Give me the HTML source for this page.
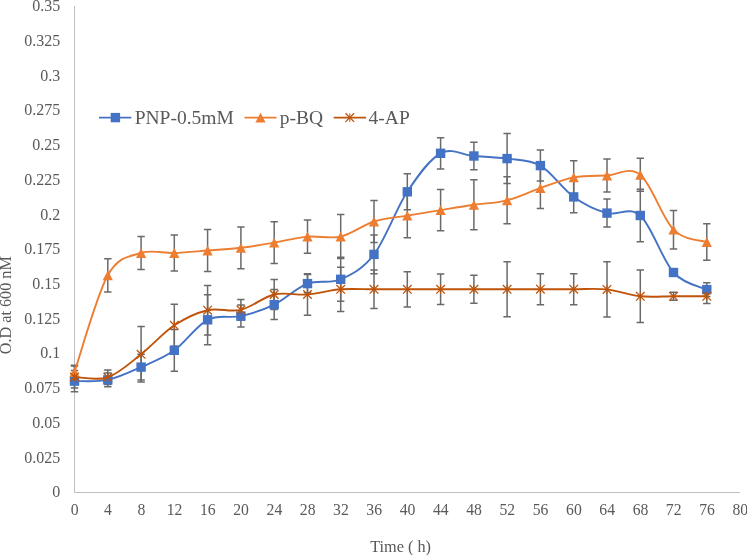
<!DOCTYPE html>
<html lang="en">
<head>
<meta charset="utf-8">
<title>Growth curve</title>
<style>
html,body{margin:0;padding:0;background:#fff;}
body{width:747px;height:555px;overflow:hidden;}
svg{display:block;will-change:transform;}
</style>
</head>
<body>
<svg width="747" height="555" viewBox="0 0 747 555">
<rect width="747" height="555" fill="#ffffff"/>
<path d="M74.5 6.1 V492.5 H739.9" fill="none" stroke="#bfbfbf" stroke-width="1"/>
<g font-family="'Liberation Serif', 'Times New Roman', serif" font-size="16" fill="#595959">
<g text-anchor="end">
<text x="60.2" y="497.2">0</text>
<text x="60.2" y="462.5">0.025</text>
<text x="60.2" y="427.8">0.05</text>
<text x="60.2" y="393.1">0.075</text>
<text x="60.2" y="358.4">0.1</text>
<text x="60.2" y="323.6">0.125</text>
<text x="60.2" y="288.9">0.15</text>
<text x="60.2" y="254.2">0.175</text>
<text x="60.2" y="219.5">0.2</text>
<text x="60.2" y="184.8">0.225</text>
<text x="60.2" y="150.0">0.25</text>
<text x="60.2" y="115.3">0.275</text>
<text x="60.2" y="80.6">0.3</text>
<text x="60.2" y="45.9">0.325</text>
<text x="60.2" y="11.1">0.35</text>
</g>
<g text-anchor="middle" font-size="15.7">
<text x="74.7" y="514.9">0</text>
<text x="108.0" y="514.9">4</text>
<text x="141.3" y="514.9">8</text>
<text x="174.5" y="514.9">12</text>
<text x="207.8" y="514.9">16</text>
<text x="241.1" y="514.9">20</text>
<text x="274.4" y="514.9">24</text>
<text x="307.7" y="514.9">28</text>
<text x="340.9" y="514.9">32</text>
<text x="374.2" y="514.9">36</text>
<text x="407.5" y="514.9">40</text>
<text x="440.8" y="514.9">44</text>
<text x="474.1" y="514.9">48</text>
<text x="507.3" y="514.9">52</text>
<text x="540.6" y="514.9">56</text>
<text x="573.9" y="514.9">60</text>
<text x="607.2" y="514.9">64</text>
<text x="640.5" y="514.9">68</text>
<text x="673.7" y="514.9">72</text>
<text x="707.0" y="514.9">76</text>
<text x="740.3" y="514.9">80</text>
<text x="400.6" y="551.7" font-size="16.3">Time ( h)</text>
<text transform="translate(11.3 305.2) rotate(-90)" font-size="16.2">O.D at 600 nM</text>
</g>
</g>
<path d="M74.5 370.5 V391.7 M70.8 370.5 h7.4 M70.8 391.7 h7.4 M107.8 373.1 V386.7 M104.1 373.1 h7.4 M104.1 386.7 h7.4 M141.1 354.2 V380.0 M137.4 354.2 h7.4 M137.4 380.0 h7.4 M174.3 329.4 V371.2 M170.6 329.4 h7.4 M170.6 371.2 h7.4 M207.6 294.8 V344.8 M203.9 294.8 h7.4 M203.9 344.8 h7.4 M240.9 305.1 V327.1 M237.2 305.1 h7.4 M237.2 327.1 h7.4 M274.2 289.6 V319.6 M270.5 289.6 h7.4 M270.5 319.6 h7.4 M307.5 274.4 V292.8 M303.8 274.4 h7.4 M303.8 292.8 h7.4 M340.7 257.3 V301.3 M337.0 257.3 h7.4 M337.0 301.3 h7.4 M374.0 235.1 V273.7 M370.3 235.1 h7.4 M370.3 273.7 h7.4 M407.3 173.8 V209.8 M403.6 173.8 h7.4 M403.6 209.8 h7.4 M440.6 137.7 V168.9 M436.9 137.7 h7.4 M436.9 168.9 h7.4 M473.9 142.2 V169.8 M470.2 142.2 h7.4 M470.2 169.8 h7.4 M507.1 133.6 V183.6 M503.4 133.6 h7.4 M503.4 183.6 h7.4 M540.4 150.1 V181.1 M536.7 150.1 h7.4 M536.7 181.1 h7.4 M573.7 181.1 V212.7 M570.0 181.1 h7.4 M570.0 212.7 h7.4 M607.0 199.1 V227.1 M603.3 199.1 h7.4 M603.3 227.1 h7.4 M640.3 189.3 V241.7 M636.6 189.3 h7.4 M636.6 241.7 h7.4 M673.5 269.5 V275.5 M669.8 269.5 h7.4 M669.8 275.5 h7.4 M706.8 282.8 V296.4 M703.1 282.8 h7.4 M703.1 296.4 h7.4 " fill="none" stroke="#6a6a6a" stroke-width="1.5"/>
<path d="M74.5 365.2 V378.8 M70.8 365.2 h7.4 M70.8 378.8 h7.4 M107.8 258.7 V291.9 M104.1 258.7 h7.4 M104.1 291.9 h7.4 M141.1 236.5 V269.5 M137.4 236.5 h7.4 M137.4 269.5 h7.4 M174.3 235.1 V270.9 M170.6 235.1 h7.4 M170.6 270.9 h7.4 M207.6 229.6 V271.4 M203.9 229.6 h7.4 M203.9 271.4 h7.4 M240.9 226.9 V268.7 M237.2 226.9 h7.4 M237.2 268.7 h7.4 M274.2 221.8 V263.6 M270.5 221.8 h7.4 M270.5 263.6 h7.4 M307.5 219.9 V253.3 M303.8 219.9 h7.4 M303.8 253.3 h7.4 M340.7 214.6 V258.6 M337.0 214.6 h7.4 M337.0 258.6 h7.4 M374.0 200.6 V242.4 M370.3 200.6 h7.4 M370.3 242.4 h7.4 M407.3 193.4 V237.8 M403.6 193.4 h7.4 M403.6 237.8 h7.4 M440.6 189.5 V230.7 M436.9 189.5 h7.4 M436.9 230.7 h7.4 M473.9 179.8 V229.8 M470.2 179.8 h7.4 M470.2 229.8 h7.4 M507.1 176.8 V223.8 M503.4 176.8 h7.4 M503.4 223.8 h7.4 M540.4 167.8 V208.4 M536.7 167.8 h7.4 M536.7 208.4 h7.4 M573.7 160.8 V194.0 M570.0 160.8 h7.4 M570.0 194.0 h7.4 M607.0 159.0 V192.0 M603.3 159.0 h7.4 M603.3 192.0 h7.4 M640.3 158.3 V191.3 M636.6 158.3 h7.4 M636.6 191.3 h7.4 M673.5 210.4 V249.0 M669.8 210.4 h7.4 M669.8 249.0 h7.4 M706.8 223.8 V260.2 M703.1 223.8 h7.4 M703.1 260.2 h7.4 " fill="none" stroke="#6a6a6a" stroke-width="1.5"/>
<path d="M74.5 366.1 V387.9 M70.8 366.1 h7.4 M70.8 387.9 h7.4 M107.8 370.0 V384.6 M104.1 370.0 h7.4 M104.1 384.6 h7.4 M141.1 326.6 V382.0 M137.4 326.6 h7.4 M137.4 382.0 h7.4 M174.3 304.3 V346.3 M170.6 304.3 h7.4 M170.6 346.3 h7.4 M207.6 285.4 V335.0 M203.9 285.4 h7.4 M203.9 335.0 h7.4 M240.9 299.4 V320.2 M237.2 299.4 h7.4 M237.2 320.2 h7.4 M274.2 279.5 V309.5 M270.5 279.5 h7.4 M270.5 309.5 h7.4 M307.5 273.7 V315.3 M303.8 273.7 h7.4 M303.8 315.3 h7.4 M340.7 267.2 V311.4 M337.0 267.2 h7.4 M337.0 311.4 h7.4 M374.0 270.0 V308.6 M370.3 270.0 h7.4 M370.3 308.6 h7.4 M407.3 271.7 V306.9 M403.6 271.7 h7.4 M403.6 306.9 h7.4 M440.6 274.1 V304.5 M436.9 274.1 h7.4 M436.9 304.5 h7.4 M473.9 275.3 V303.3 M470.2 275.3 h7.4 M470.2 303.3 h7.4 M507.1 261.8 V316.8 M503.4 261.8 h7.4 M503.4 316.8 h7.4 M540.4 273.7 V304.7 M536.7 273.7 h7.4 M536.7 304.7 h7.4 M573.7 273.7 V304.7 M570.0 273.7 h7.4 M570.0 304.7 h7.4 M607.0 261.8 V317.0 M603.3 261.8 h7.4 M603.3 317.0 h7.4 M640.3 270.1 V322.5 M636.6 270.1 h7.4 M636.6 322.5 h7.4 M673.5 292.3 V300.3 M669.8 292.3 h7.4 M669.8 300.3 h7.4 M706.8 289.0 V303.6 M703.1 289.0 h7.4 M703.1 303.6 h7.4 " fill="none" stroke="#6a6a6a" stroke-width="1.5"/>
<path d="M74.50 381.10 C80.05 380.90 96.69 382.23 107.78 379.90 C118.87 377.57 129.97 372.03 141.06 367.10 C152.15 362.17 163.25 358.18 174.34 350.30 C185.43 342.42 196.53 325.50 207.62 319.80 C218.71 314.10 229.81 318.63 240.90 316.10 C251.99 313.57 263.09 310.02 274.18 304.60 C285.27 299.18 296.37 287.82 307.46 283.60 C318.55 279.38 329.65 284.17 340.74 279.30 C351.83 274.43 362.93 268.98 374.02 254.40 C385.11 239.82 396.21 208.65 407.30 191.80 C418.39 174.95 429.49 159.27 440.58 153.30 C451.67 147.33 462.77 155.12 473.86 156.00 C484.95 156.88 496.05 157.00 507.14 158.60 C518.23 160.20 529.33 159.22 540.42 165.60 C551.51 171.98 562.61 188.98 573.70 196.90 C584.79 204.82 595.89 210.00 606.98 213.10 C618.07 216.20 629.17 205.60 640.26 215.50 C651.35 225.40 662.45 260.15 673.54 272.50 C684.63 284.85 701.27 286.75 706.82 289.60" fill="none" stroke="#4472c4" stroke-width="1.9" stroke-linecap="round" stroke-linejoin="round"/>
<rect x="69.8" y="376.4" width="9.4" height="9.4" fill="#4472c4"/>
<rect x="103.1" y="375.2" width="9.4" height="9.4" fill="#4472c4"/>
<rect x="136.4" y="362.4" width="9.4" height="9.4" fill="#4472c4"/>
<rect x="169.6" y="345.6" width="9.4" height="9.4" fill="#4472c4"/>
<rect x="202.9" y="315.1" width="9.4" height="9.4" fill="#4472c4"/>
<rect x="236.2" y="311.4" width="9.4" height="9.4" fill="#4472c4"/>
<rect x="269.5" y="299.9" width="9.4" height="9.4" fill="#4472c4"/>
<rect x="302.8" y="278.9" width="9.4" height="9.4" fill="#4472c4"/>
<rect x="336.0" y="274.6" width="9.4" height="9.4" fill="#4472c4"/>
<rect x="369.3" y="249.7" width="9.4" height="9.4" fill="#4472c4"/>
<rect x="402.6" y="187.1" width="9.4" height="9.4" fill="#4472c4"/>
<rect x="435.9" y="148.6" width="9.4" height="9.4" fill="#4472c4"/>
<rect x="469.2" y="151.3" width="9.4" height="9.4" fill="#4472c4"/>
<rect x="502.4" y="153.9" width="9.4" height="9.4" fill="#4472c4"/>
<rect x="535.7" y="160.9" width="9.4" height="9.4" fill="#4472c4"/>
<rect x="569.0" y="192.2" width="9.4" height="9.4" fill="#4472c4"/>
<rect x="602.3" y="208.4" width="9.4" height="9.4" fill="#4472c4"/>
<rect x="635.6" y="210.8" width="9.4" height="9.4" fill="#4472c4"/>
<rect x="668.8" y="267.8" width="9.4" height="9.4" fill="#4472c4"/>
<rect x="702.1" y="284.9" width="9.4" height="9.4" fill="#4472c4"/>
<path d="M74.50 372.00 C80.05 355.88 96.69 295.13 107.78 275.30 C118.87 255.47 129.97 256.72 141.06 253.00 C152.15 249.28 163.25 253.42 174.34 253.00 C185.43 252.58 196.53 251.37 207.62 250.50 C218.71 249.63 229.81 249.10 240.90 247.80 C251.99 246.50 263.09 244.57 274.18 242.70 C285.27 240.83 296.37 237.62 307.46 236.60 C318.55 235.58 329.65 239.12 340.74 236.60 C351.83 234.08 362.93 225.00 374.02 221.50 C385.11 218.00 396.21 217.50 407.30 215.60 C418.39 213.70 429.49 211.90 440.58 210.10 C451.67 208.30 462.77 206.43 473.86 204.80 C484.95 203.17 496.05 203.08 507.14 200.30 C518.23 197.52 529.33 191.92 540.42 188.10 C551.51 184.28 562.61 179.50 573.70 177.40 C584.79 175.30 595.89 175.93 606.98 175.50 C618.07 175.07 629.17 165.77 640.26 174.80 C651.35 183.83 662.45 218.50 673.54 229.70 C684.63 240.90 701.27 239.95 706.82 242.00" fill="none" stroke="#ed7d31" stroke-width="1.9" stroke-linecap="round" stroke-linejoin="round"/>
<path d="M74.5 367.1 L79.6 376.9 L69.4 376.9 Z" fill="#ed7d31"/>
<path d="M107.8 270.4 L112.9 280.2 L102.7 280.2 Z" fill="#ed7d31"/>
<path d="M141.1 248.1 L146.2 257.9 L136.0 257.9 Z" fill="#ed7d31"/>
<path d="M174.3 248.1 L179.4 257.9 L169.2 257.9 Z" fill="#ed7d31"/>
<path d="M207.6 245.6 L212.7 255.4 L202.5 255.4 Z" fill="#ed7d31"/>
<path d="M240.9 242.9 L246.0 252.7 L235.8 252.7 Z" fill="#ed7d31"/>
<path d="M274.2 237.8 L279.3 247.6 L269.1 247.6 Z" fill="#ed7d31"/>
<path d="M307.5 231.7 L312.6 241.5 L302.4 241.5 Z" fill="#ed7d31"/>
<path d="M340.7 231.7 L345.8 241.5 L335.6 241.5 Z" fill="#ed7d31"/>
<path d="M374.0 216.6 L379.1 226.4 L368.9 226.4 Z" fill="#ed7d31"/>
<path d="M407.3 210.7 L412.4 220.5 L402.2 220.5 Z" fill="#ed7d31"/>
<path d="M440.6 205.2 L445.7 215.0 L435.5 215.0 Z" fill="#ed7d31"/>
<path d="M473.9 199.9 L479.0 209.7 L468.8 209.7 Z" fill="#ed7d31"/>
<path d="M507.1 195.4 L512.2 205.2 L502.0 205.2 Z" fill="#ed7d31"/>
<path d="M540.4 183.2 L545.5 193.0 L535.3 193.0 Z" fill="#ed7d31"/>
<path d="M573.7 172.5 L578.8 182.3 L568.6 182.3 Z" fill="#ed7d31"/>
<path d="M607.0 170.6 L612.1 180.4 L601.9 180.4 Z" fill="#ed7d31"/>
<path d="M640.3 169.9 L645.4 179.7 L635.2 179.7 Z" fill="#ed7d31"/>
<path d="M673.5 224.8 L678.6 234.6 L668.4 234.6 Z" fill="#ed7d31"/>
<path d="M706.8 237.1 L711.9 246.9 L701.7 246.9 Z" fill="#ed7d31"/>
<path d="M74.50 377.00 C80.05 377.05 96.69 381.08 107.78 377.30 C118.87 373.52 129.97 362.97 141.06 354.30 C152.15 345.63 163.25 332.65 174.34 325.30 C185.43 317.95 196.53 312.78 207.62 310.20 C218.71 307.62 229.81 312.42 240.90 309.80 C251.99 307.18 263.09 297.05 274.18 294.50 C285.27 291.95 296.37 295.37 307.46 294.50 C318.55 293.63 329.65 290.17 340.74 289.30 C351.83 288.43 362.93 289.30 374.02 289.30 C385.11 289.30 396.21 289.30 407.30 289.30 C418.39 289.30 429.49 289.30 440.58 289.30 C451.67 289.30 462.77 289.30 473.86 289.30 C484.95 289.30 496.05 289.32 507.14 289.30 C518.23 289.28 529.33 289.22 540.42 289.20 C551.51 289.18 562.61 289.17 573.70 289.20 C584.79 289.23 595.89 288.22 606.98 289.40 C618.07 290.58 629.17 295.15 640.26 296.30 C651.35 297.45 662.45 296.30 673.54 296.30 C684.63 296.30 701.27 296.30 706.82 296.30" fill="none" stroke="#be5309" stroke-width="1.9" stroke-linecap="round" stroke-linejoin="round"/>
<path d="M70.2 372.7 l8.6 8.6 M70.2 381.3 l8.6 -8.6" fill="none" stroke="#be5309" stroke-width="1.3"/><path d="M74.5 372.7 v8.6" fill="none" stroke="#be5309" stroke-width="1"/>
<path d="M103.5 373.0 l8.6 8.6 M103.5 381.6 l8.6 -8.6" fill="none" stroke="#be5309" stroke-width="1.3"/><path d="M107.8 373.0 v8.6" fill="none" stroke="#be5309" stroke-width="1"/>
<path d="M136.8 350.0 l8.6 8.6 M136.8 358.6 l8.6 -8.6" fill="none" stroke="#be5309" stroke-width="1.3"/><path d="M141.1 350.0 v8.6" fill="none" stroke="#be5309" stroke-width="1"/>
<path d="M170.0 321.0 l8.6 8.6 M170.0 329.6 l8.6 -8.6" fill="none" stroke="#be5309" stroke-width="1.3"/><path d="M174.3 321.0 v8.6" fill="none" stroke="#be5309" stroke-width="1"/>
<path d="M203.3 305.9 l8.6 8.6 M203.3 314.5 l8.6 -8.6" fill="none" stroke="#be5309" stroke-width="1.3"/><path d="M207.6 305.9 v8.6" fill="none" stroke="#be5309" stroke-width="1"/>
<path d="M236.6 305.5 l8.6 8.6 M236.6 314.1 l8.6 -8.6" fill="none" stroke="#be5309" stroke-width="1.3"/><path d="M240.9 305.5 v8.6" fill="none" stroke="#be5309" stroke-width="1"/>
<path d="M269.9 290.2 l8.6 8.6 M269.9 298.8 l8.6 -8.6" fill="none" stroke="#be5309" stroke-width="1.3"/><path d="M274.2 290.2 v8.6" fill="none" stroke="#be5309" stroke-width="1"/>
<path d="M303.2 290.2 l8.6 8.6 M303.2 298.8 l8.6 -8.6" fill="none" stroke="#be5309" stroke-width="1.3"/><path d="M307.5 290.2 v8.6" fill="none" stroke="#be5309" stroke-width="1"/>
<path d="M336.4 285.0 l8.6 8.6 M336.4 293.6 l8.6 -8.6" fill="none" stroke="#be5309" stroke-width="1.3"/><path d="M340.7 285.0 v8.6" fill="none" stroke="#be5309" stroke-width="1"/>
<path d="M369.7 285.0 l8.6 8.6 M369.7 293.6 l8.6 -8.6" fill="none" stroke="#be5309" stroke-width="1.3"/><path d="M374.0 285.0 v8.6" fill="none" stroke="#be5309" stroke-width="1"/>
<path d="M403.0 285.0 l8.6 8.6 M403.0 293.6 l8.6 -8.6" fill="none" stroke="#be5309" stroke-width="1.3"/><path d="M407.3 285.0 v8.6" fill="none" stroke="#be5309" stroke-width="1"/>
<path d="M436.3 285.0 l8.6 8.6 M436.3 293.6 l8.6 -8.6" fill="none" stroke="#be5309" stroke-width="1.3"/><path d="M440.6 285.0 v8.6" fill="none" stroke="#be5309" stroke-width="1"/>
<path d="M469.6 285.0 l8.6 8.6 M469.6 293.6 l8.6 -8.6" fill="none" stroke="#be5309" stroke-width="1.3"/><path d="M473.9 285.0 v8.6" fill="none" stroke="#be5309" stroke-width="1"/>
<path d="M502.8 285.0 l8.6 8.6 M502.8 293.6 l8.6 -8.6" fill="none" stroke="#be5309" stroke-width="1.3"/><path d="M507.1 285.0 v8.6" fill="none" stroke="#be5309" stroke-width="1"/>
<path d="M536.1 284.9 l8.6 8.6 M536.1 293.5 l8.6 -8.6" fill="none" stroke="#be5309" stroke-width="1.3"/><path d="M540.4 284.9 v8.6" fill="none" stroke="#be5309" stroke-width="1"/>
<path d="M569.4 284.9 l8.6 8.6 M569.4 293.5 l8.6 -8.6" fill="none" stroke="#be5309" stroke-width="1.3"/><path d="M573.7 284.9 v8.6" fill="none" stroke="#be5309" stroke-width="1"/>
<path d="M602.7 285.1 l8.6 8.6 M602.7 293.7 l8.6 -8.6" fill="none" stroke="#be5309" stroke-width="1.3"/><path d="M607.0 285.1 v8.6" fill="none" stroke="#be5309" stroke-width="1"/>
<path d="M636.0 292.0 l8.6 8.6 M636.0 300.6 l8.6 -8.6" fill="none" stroke="#be5309" stroke-width="1.3"/><path d="M640.3 292.0 v8.6" fill="none" stroke="#be5309" stroke-width="1"/>
<path d="M669.2 292.0 l8.6 8.6 M669.2 300.6 l8.6 -8.6" fill="none" stroke="#be5309" stroke-width="1.3"/><path d="M673.5 292.0 v8.6" fill="none" stroke="#be5309" stroke-width="1"/>
<path d="M702.5 292.0 l8.6 8.6 M702.5 300.6 l8.6 -8.6" fill="none" stroke="#be5309" stroke-width="1.3"/><path d="M706.8 292.0 v8.6" fill="none" stroke="#be5309" stroke-width="1"/>
<path d="M99 117.6 H131.3" stroke="#4472c4" stroke-width="1.9"/>
<rect x="110.7" y="112.9" width="9.4" height="9.4" fill="#4472c4"/>
<path d="M244.5 117.6 H276.5" stroke="#ed7d31" stroke-width="1.9"/>
<path d="M260.5 112.7 L265.6 122.5 L255.4 122.5 Z" fill="#ed7d31"/>
<path d="M333.7 117.6 H366.1" stroke="#be5309" stroke-width="1.9"/>
<path d="M345.5 113.3 l8.6 8.6 M345.5 121.9 l8.6 -8.6" fill="none" stroke="#be5309" stroke-width="1.3"/><path d="M349.8 113.3 v8.6" fill="none" stroke="#be5309" stroke-width="1"/>
<g font-family="'Liberation Serif', 'Times New Roman', serif" font-size="19.5" fill="#595959">
<text x="134.7" y="123.6">PNP-0.5mM</text>
<text x="279.8" y="123.6">p-BQ</text>
<text x="368.6" y="123.6">4-AP</text>
</g>
</svg>
</body>
</html>
